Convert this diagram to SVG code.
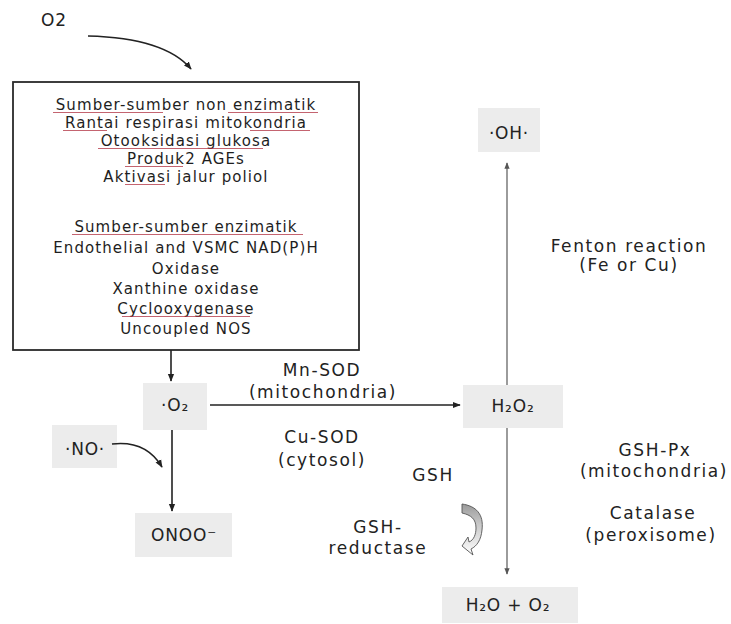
<svg xmlns="http://www.w3.org/2000/svg" width="731" height="624" viewBox="0 0 731 624">
<style>
  .bx { font-family: "DejaVu Sans", Verdana, sans-serif; font-size: 15px; fill: #1e1e1e; text-anchor: middle; letter-spacing: 1.1px; }
  .lb { font-family: "DejaVu Sans", Verdana, sans-serif; font-size: 17px; fill: #222; text-anchor: middle; letter-spacing: 1.6px; }
  .nd { font-family: "DejaVu Sans", Verdana, sans-serif; font-size: 17px; fill: #222; text-anchor: middle; letter-spacing: 0.8px; }
  .node { fill: #ececec; stroke: none; }
  .sq { stroke: #b03040; stroke-width: 1.2; opacity: 0.75; fill: none; }
  .conn { stroke: #222; stroke-width: 1.6; fill: none; }
  .conn2 { stroke: #666; stroke-width: 1.3; fill: none; }
</style>
<defs>
  <marker id="ah" viewBox="0 0 10 10" refX="9" refY="5" markerWidth="5" markerHeight="5" orient="auto">
    <path d="M0,1 L10,5 L0,9 Z" fill="#222"/>
  </marker>
  <marker id="ah2" viewBox="0 0 10 10" refX="9" refY="5" markerWidth="5" markerHeight="5" orient="auto">
    <path d="M0,1 L10,5 L0,9 Z" fill="#555"/>
  </marker>
  <linearGradient id="gg" x1="0" y1="0" x2="0" y2="1">
    <stop offset="0" stop-color="#9a9a9a"/>
    <stop offset="0.4" stop-color="#c8c8c8"/>
    <stop offset="1" stop-color="#ffffff"/>
  </linearGradient>
</defs>
<rect width="731" height="624" fill="#ffffff"/>

<g id="o2-top">
  <text x="54" y="26" class="nd">O2</text>
</g>

<g id="sources">
  <rect x="13" y="82" width="346" height="268" fill="#ffffff" stroke="#2a2a2a" stroke-width="1.8"/>
  <text x="186" y="110" class="bx">Sumber-sumber non enzimatik</text>
  <text x="186" y="128" class="bx">Rantai respirasi mitokondria</text>
  <text x="186" y="146" class="bx">Otooksidasi glukosa</text>
  <text x="186" y="164" class="bx">Produk2 AGEs</text>
  <text x="186" y="182" class="bx">Aktivasi jalur poliol</text>
  <text x="186" y="232" class="bx">Sumber-sumber enzimatik</text>
  <text x="186" y="253" class="bx">Endothelial and VSMC NAD(P)H</text>
  <text x="186" y="274" class="bx">Oxidase</text>
  <text x="186" y="294" class="bx">Xanthine oxidase</text>
  <text x="186" y="314" class="bx">Cyclooxygenase</text>
  <text x="186" y="334" class="bx">Uncoupled NOS</text>
  <line class="sq" x1="53" y1="112.5" x2="163" y2="112.5"/>
  <line class="sq" x1="228" y1="112.5" x2="318" y2="112.5"/>
  <line class="sq" x1="63" y1="130.5" x2="107" y2="130.5"/>
  <line class="sq" x1="250" y1="130.5" x2="310" y2="130.5"/>
  <line class="sq" x1="98" y1="148.5" x2="263" y2="148.5"/>
  <line class="sq" x1="125" y1="166.5" x2="183" y2="166.5"/>
  <line class="sq" x1="125" y1="184.5" x2="165" y2="184.5"/>
  <line class="sq" x1="72" y1="234.5" x2="303" y2="234.5"/>
  <line class="sq" x1="122" y1="316.5" x2="250" y2="316.5"/>
</g>

<g id="o2-radical">
  <rect class="node" x="143" y="383" width="64" height="47"/>
  <text x="175" y="411" class="nd">·O₂</text>
</g>

<g id="no-radical">
  <rect class="node" x="52" y="425" width="65" height="43"/>
  <text x="85" y="455" class="nd">·NO·</text>
</g>

<g id="onoo">
  <rect class="node" x="135" y="513" width="97" height="44"/>
  <text x="184" y="541" class="nd">ONOO⁻</text>
</g>

<g id="h2o2">
  <rect class="node" x="463" y="385" width="100" height="43"/>
  <text x="513" y="412" class="nd">H₂O₂</text>
</g>

<g id="oh-radical">
  <rect class="node" x="478" y="108" width="62" height="44"/>
  <text x="509" y="139" class="nd">·OH·</text>
</g>

<g id="h2o-o2">
  <rect class="node" x="442" y="587" width="136" height="36"/>
  <text x="508" y="611" class="nd">H₂O + O₂</text>
</g>

<g id="labels">
  <text x="322" y="376" class="lb">Mn-SOD</text>
  <text x="323" y="398" class="lb">(mitochondria)</text>
  <text x="322" y="443" class="lb">Cu-SOD</text>
  <text x="322" y="466" class="lb">(cytosol)</text>
  <text x="433" y="481" class="lb">GSH</text>
  <text x="378" y="533" class="lb">GSH-</text>
  <text x="378" y="554" class="lb">reductase</text>
  <text x="629" y="252" class="lb">Fenton reaction</text>
  <text x="629" y="271" class="lb">(Fe or Cu)</text>
  <text x="655" y="456" class="lb">GSH-Px</text>
  <text x="654" y="477" class="lb">(mitochondria)</text>
  <text x="653" y="519" class="lb">Catalase</text>
  <text x="651" y="541" class="lb">(peroxisome)</text>
</g>

<g id="connectors">
  <path class="conn" d="M88,36 Q165,38 191,69" marker-end="url(#ah)"/>
  <line class="conn" x1="171" y1="350" x2="171" y2="381" marker-end="url(#ah)"/>
  <line class="conn" x1="210" y1="405" x2="460" y2="405" marker-end="url(#ah)"/>
  <line class="conn" x1="172" y1="430" x2="172" y2="511" marker-end="url(#ah)"/>
  <path class="conn" d="M112,444 Q146,440 162,467" marker-end="url(#ah)"/>
  <line class="conn2" x1="507" y1="385" x2="507" y2="163" marker-end="url(#ah2)"/>
  <line class="conn2" x1="507" y1="428" x2="507" y2="574" marker-end="url(#ah2)"/>
  <path d="M462,504 C476,506 484,514 482,530 C481,540 477,546 471,549 L473,555 L462,546 L468,537 L469,542 C474,540 476,534 476,528 C476,519 471,515 462,513 Z" fill="url(#gg)" stroke="#555" stroke-width="0.9"/>
</g>
</svg>
